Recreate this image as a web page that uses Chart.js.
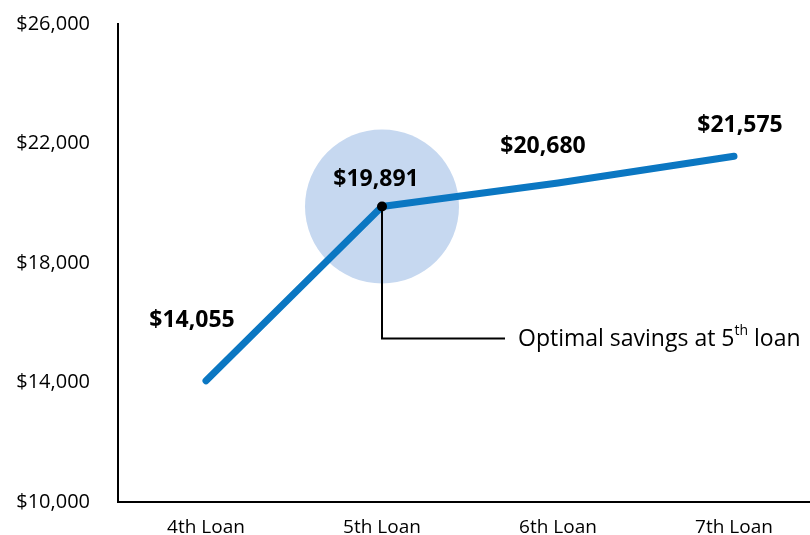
<!DOCTYPE html>
<html>
<head>
<meta charset="utf-8">
<script src="https://cdn.jsdelivr.net/npm/chart.js@4"></script>
<style>
  html, body { margin: 0; padding: 0; background: #fff; overflow: hidden; }
  #wrap { width: 822px; height: 535px; }
</style>
</head>
<body>
<div id="wrap"><canvas id="loanChart"></canvas></div>
<script>
const categories = ['4th Loan', '5th Loan', '6th Loan', '7th Loan'];
const savings = [14055, 19891, 20680, 21575];
const yTicks = [10000, 14000, 18000, 22000, 26000];
const highlightIndex = 1;
const noteText = ['Optimal savings at 5', 'th', ' loan'];

const lineColor = '#0b77c2';
const fontFamily = '"Open Sans", "Noto Sans", sans-serif';

function money(v) {
  return '$' + v.toLocaleString('en-US');
}

// label offsets relative to each point (px)
const labelOffsets = [
  { dx: -14, dy: -60 },
  { dx: -6, dy: -27 },
  { dx: -15, dy: -36 },
  { dx: 6, dy: -31 },
];

const decorations = {
  id: 'decorations',
  beforeDatasetsDraw(chart) {
    const pt = chart.getDatasetMeta(0).data[highlightIndex];
    const c = chart.ctx;
    c.save();
    c.fillStyle = '#c6d8f0';
    c.beginPath();
    c.arc(pt.x, pt.y, 77, 0, Math.PI * 2);
    c.fill();
    c.restore();
  },
  afterDatasetsDraw(chart) {
    const meta = chart.getDatasetMeta(0);
    const c = chart.ctx;
    const pt = meta.data[highlightIndex];
    c.save();

    // callout line
    c.strokeStyle = '#000';
    c.lineWidth = 2;
    c.beginPath();
    c.moveTo(pt.x, pt.y);
    c.lineTo(pt.x, pt.y + 132);
    c.lineTo(pt.x + 123, pt.y + 132);
    c.stroke();

    c.fillStyle = '#000';
    c.beginPath();
    c.arc(pt.x, pt.y, 5, 0, Math.PI * 2);
    c.fill();

    // callout text with superscript
    let tx = pt.x + 136;
    const ty = pt.y + 133;
    c.textBaseline = 'middle';
    c.textAlign = 'left';
    c.font = `23px ${fontFamily}`;
    c.fillText(noteText[0], tx, ty);
    tx += c.measureText(noteText[0]).width;
    c.font = `14px ${fontFamily}`;
    c.fillText(noteText[1], tx, ty - 8);
    tx += c.measureText(noteText[1]).width;
    c.font = `23px ${fontFamily}`;
    c.fillText(noteText[2], tx, ty);

    // value labels
    c.font = `bold 23px ${fontFamily}`;
    c.textAlign = 'center';
    meta.data.forEach((p, i) => {
      const off = labelOffsets[i];
      c.fillText(money(savings[i]), p.x + off.dx, p.y + off.dy);
    });
    c.restore();
  },
};

const ctx = document.getElementById('loanChart');
new Chart(ctx, {
  type: 'line',
  plugins: [decorations],
  data: {
    labels: categories,
    datasets: [{
      data: savings,
      borderColor: lineColor,
      borderWidth: 7,
      borderCapStyle: 'round',
      borderJoinStyle: 'round',
      pointRadius: 0,
      fill: false,
      tension: 0,
    }],
  },
  options: {
    responsive: true,
    maintainAspectRatio: false,
    animation: false,
    layout: { padding: { top: 24, left: 0, right: 0, bottom: 0 } },
    plugins: {
      legend: { display: false },
      tooltip: { enabled: false },
    },
    scales: {
      x: {
        offset: true,
        grid: { display: false },
        border: { display: true, color: '#000', width: 2 },
        ticks: {
          color: '#000',
          font: { family: fontFamily, size: 19 },
          padding: 6,
          maxRotation: 0,
        },
        afterFit(scale) {
          scale.height = 33;
          scale.paddingLeft = 0;
          scale.paddingRight = 0;
        },
      },
      y: {
        min: 10000,
        max: 26000,
        grid: { display: false },
        border: { display: true, color: '#000', width: 2 },
        afterBuildTicks(scale) {
          scale.ticks = yTicks.map(v => ({ value: v }));
        },
        ticks: {
          color: '#000',
          font: { family: fontFamily, size: 20 },
          padding: 20,
          callback: v => money(v),
        },
        afterFit(scale) {
          scale.width = 118;
          scale.paddingTop = 0;
          scale.paddingBottom = 0;
        },
      },
    },
  },
});
</script>
</body>
</html>
